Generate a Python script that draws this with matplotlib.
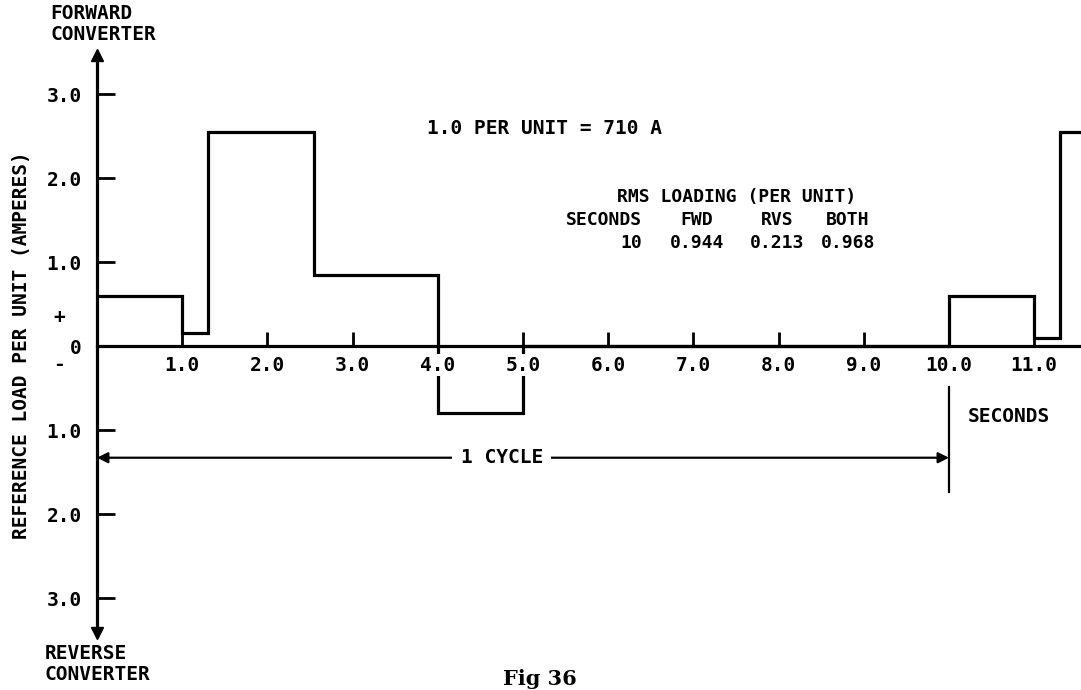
import matplotlib
matplotlib.use("Agg")
import matplotlib.pyplot as plt

# step profile of the reference load (per unit), seconds
edges = [0, 1.0, 1.3, 2.55, 4.0, 5.0, 10.0, 11.0, 11.3, 11.6]
load = [0.6, 0.15, 2.55, 0.85, -0.8, 0.0, 0.6, 0.1, 2.55]

xticks = [1, 2, 3, 4, 5, 6, 7, 8, 9, 10, 11]
xticklabels = ["1.0", "2.0", "3.0", "4.0", "5.0", "6.0", "7.0", "8.0", "9.0", "10.0", "11.0"]
yticks = [3, 2, 1, 0, -1, -2, -3]
yticklabels = ["3.0", "2.0", "1.0", "0", "1.0", "2.0", "3.0"]

rms_cols = ["SECONDS", "FWD", "RVS", "BOTH"]
rms_vals = ["10", "0.944", "0.213", "0.968"]

cycle_len = 10.0
cycle_y = -1.33

W, H = 1081, 690
FONT = dict(family="DejaVu Sans Mono", fontweight="bold", fontsize=14, color="black")
TFONT = dict(FONT, fontsize=13)

fig = plt.figure(figsize=(W / 100, H / 100), dpi=100)
ax = fig.add_axes([0, 0, 1, 1])

# pixel layout: origin at (97, 346) px, 85.2 px per second, 84 px per unit
sx, sy = 85.2, 84.0
ax.set_xlim(-97 / sx, (W - 97) / sx)
ax.set_ylim(-(H - 346) / sy, 346 / sy)


def px(x, y):
    # figure pixel (from top-left) -> figure fraction
    return x / W, 1 - y / H


ax.stairs(load, edges, baseline=None, color="black", lw=2.3)

for s in ["top", "right"]:
    ax.spines[s].set_visible(False)
ax.spines["left"].set_position(("data", 0))
ax.spines["bottom"].set_position(("data", 0))
ax.spines["left"].set_bounds(-3.42, 3.46)
ax.spines["bottom"].set_bounds(0, edges[-1])
ax.spines["left"].set_linewidth(2.3)
ax.spines["bottom"].set_linewidth(2.3)

# arrow heads on the vertical axis
ax.plot([0], [3.46], marker="^", ms=9, color="black", clip_on=False)
ax.plot([0], [-3.42], marker="v", ms=9, color="black", clip_on=False)

ax.set_xticks(xticks)
ax.set_xticklabels(xticklabels)
ax.set_yticks(yticks)
ax.set_yticklabels(yticklabels)
ax.tick_params(axis="x", direction="in", length=10, width=2, pad=7)
ax.tick_params(axis="y", direction="in", length=13, width=2, pad=11)
for lab in ax.get_xticklabels() + ax.get_yticklabels():
    lab.set_fontfamily(FONT["family"])
    lab.set_fontweight("bold")
    lab.set_fontsize(14)
# the step lines break where the x labels sit
for lab in ax.get_xticklabels():
    lab.set_bbox(dict(facecolor="white", edgecolor="none", pad=1))

# one cycle arrow and marker line
ax.annotate("", xy=(0, cycle_y), xytext=(cycle_len, cycle_y),
            arrowprops=dict(arrowstyle="<|-|>", color="black", lw=1.6,
                            mutation_scale=16, shrinkA=0, shrinkB=0))
ax.plot([cycle_len, cycle_len], [-0.49, -1.74], color="black", lw=1.6)
ax.text(4.75, cycle_y, "1 CYCLE", ha="center", va="center",
        bbox=dict(facecolor="white", edgecolor="none", pad=6), **FONT)

fig.text(*px(50, 4), "FORWARD\nCONVERTER", ha="left", va="top", linespacing=1.1, **FONT)
fig.text(*px(45, 644), "REVERSE\nCONVERTER", ha="left", va="top", linespacing=1.1, **FONT)
fig.text(*px(22, 345), "REFERENCE LOAD PER UNIT (AMPERES)", rotation=90,
         ha="center", va="center", **FONT)
fig.text(*px(59, 318), "+", ha="center", va="center", **FONT)
fig.text(*px(59, 364), "-", ha="center", va="center", **FONT)

fig.text(*px(427, 128), "1.0 PER UNIT = 710 A", ha="left", va="center", **FONT)
fig.text(*px(737, 197), "RMS LOADING (PER UNIT)", ha="center", va="center", **TFONT)
col_x = [642, 697, 777, 848]
for i, (c, v) in enumerate(zip(rms_cols, rms_vals)):
    ha = "right" if i == 0 else "center"
    fig.text(*px(col_x[i], 220), c, ha=ha, va="center", **TFONT)
    fig.text(*px(col_x[i], 243), v, ha=ha, va="center", **TFONT)

fig.text(*px(968, 417), "SECONDS", ha="left", va="center", **FONT)
fig.text(*px(540, 679), "Fig 36", ha="center", va="center",
         family="DejaVu Serif", fontweight="bold", fontsize=15)

fig.savefig("out.png", dpi=100)
